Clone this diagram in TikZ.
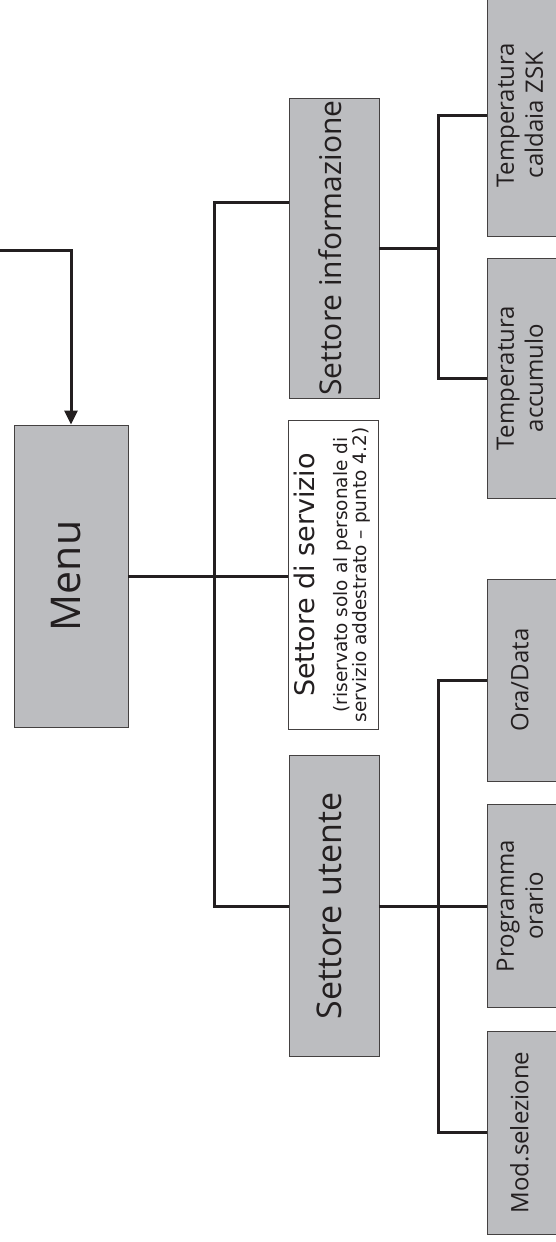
\documentclass[tikz,border=0pt]{standalone}
\usepackage{fontspec}
\usepackage{graphicx}
\setmainfont{Open Sans}
\newfontfamily\svcfont{DejaVu Sans}
\usetikzlibrary{arrows.meta}
\definecolor{boxgray}{HTML}{BCBDC0}
\definecolor{ink}{HTML}{231F20}
\newcommand{\vtext}[3]{\rotatebox{90}{\fontsize{#1}{#2}\selectfont\begin{tabular}{@{}c@{}}#3\end{tabular}}}
\begin{document}
\begin{tikzpicture}[x=1pt,y=-1pt,
  gbox/.style={draw=ink!85, line width=0.9pt, fill=boxgray, inner sep=0pt, text=ink},
  wbox/.style={draw=ink!85, line width=0.9pt, fill=white, inner sep=0pt, text=ink},
  rbox/.style={gbox, minimum width=71pt},
  conn/.style={draw=ink, line width=3pt},
  tip/.style={-{Triangle[length=14pt,width=13pt]}},
]
\useasboundingbox (0,0) rectangle (556,1242);
\clip (0,0) rectangle (556,1242);

% main boxes
\node[gbox, minimum width=114pt, minimum height=302pt] (menu) at (71,576) {\vtext{41}{48}{Menu}};
\node[gbox, minimum width=90pt, minimum height=300pt] (info) at (334,248) {\vtext{30}{36}{Settore informazione}};
\node[wbox, minimum width=90pt, minimum height=309pt] (svc) at (333,575)
  {\rotatebox{90}{\svcfont\fontsize{18.5}{17.5}\selectfont\begin{tabular}{@{}c@{}}{\fontsize{27}{30}\selectfont Settore di servizio}\\[13pt](riservato solo al personale di\\servizio addestrato – punto 4.2)\end{tabular}}};
\node[gbox, minimum width=90pt, minimum height=301pt] (user) at (334,906) {\vtext{34}{38}{Settore utente}};

% right column
\node[rbox, minimum height=242pt] (cald) at (522.5,115) {\vtext{24}{29}{Temperatura\\caldaia ZSK}};
\node[rbox, minimum height=240pt] (acc) at (522.5,378) {\vtext{24}{29}{Temperatura\\accumulo}};
\node[rbox, minimum height=202pt] (ora) at (522.5,680) {\vtext{24}{29}{Ora/Data}};
\node[rbox, minimum height=203pt] (prog) at (522.5,906) {\vtext{24}{29}{Programma\\orario}};
\node[rbox, minimum height=203pt] (mod) at (522.5,1132.5) {\vtext{24}{29}{Mod.selezione}};

% connectors
\coordinate (in) at (-5,250);
\coordinate (btop) at (214,202);
\coordinate (ibus) at (438,248);
\coordinate (ubus) at (438,906);

\draw[conn, tip] (in) -| (menu.north);
\draw[conn] (menu.east) -- (menu.east -| svc.west);
\draw[conn] (info.west |- btop) -- (btop) -- (btop |- user.west) -- (user.west);

\draw[conn] (info.east) -- (ibus);
\draw[conn] (cald.west) -| (ibus);
\draw[conn] (acc.west) -| (ibus);

\draw[conn] (user.east) -- (prog.west);
\draw[conn] (ora.west) -| (ubus);
\draw[conn] (mod.west) -| (ubus);
\end{tikzpicture}
\end{document}
